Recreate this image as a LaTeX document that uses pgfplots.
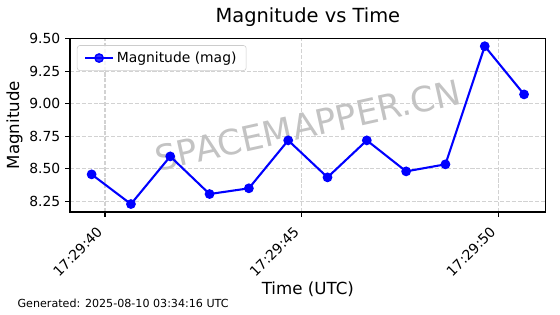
\documentclass[border=0pt]{standalone}
\usepackage{fontspec}
\setmainfont{DejaVu Sans}
\usepackage{pgfplots}
\pgfplotsset{compat=1.18}
\definecolor{gridc}{RGB}{210,210,210}
\definecolor{legc}{RGB}{204,204,204}
\definecolor{wmc}{RGB}{195,195,195}
\begin{document}
\begin{tikzpicture}
\useasboundingbox (-50.4pt,-73.44pt) rectangle (352.8pt,152.64pt);
\begin{axis}[
  at={(0pt,0pt)}, anchor=south west,
  scale only axis, width=342.5pt, height=125.1pt,
  xmin=39.11, xmax=51.21, ymin=8.168, ymax=9.502,
  xtick={40,45,50}, xticklabels={17:29:40,17:29:45,17:29:50},
  ytick={8.25,8.5,8.75,9,9.25,9.5},
  yticklabels={8.25,8.50,8.75,9.00,9.25,9.50},
  xtick pos=bottom, ytick pos=left,
  tick align=outside, major tick length=3.5pt,
  tick style={black, line width=0.8pt},
  axis line style={black, line width=0.8pt},
  ticklabel style={font=\fontsize{10}{12}\selectfont},
  xticklabel style={xshift=-6.5pt, yshift=-1.5pt, rotate=45, anchor=north east},
  grid=major,
  major grid style={gridc, dash pattern=on 2.96pt off 1.28pt, line width=0.8pt},
  title={Magnitude vs Time},
  title style={at={(axis description cs:0.5,1.0438)}, anchor=base, font=\fontsize{14}{17}\selectfont},
  xlabel={Time (UTC)},
  xlabel style={at={(axis description cs:0.5,-0.475)}, anchor=base, font=\fontsize{12}{14}\selectfont},
  ylabel={Magnitude},
  ylabel style={at={(axis description cs:-0.1072,0.5)}, anchor=base, font=\fontsize{12}{14}\selectfont},
  legend style={at={(axis description cs:0,1)}, anchor=north west, xshift=5pt, yshift=-5pt,
    draw=legc, rounded corners=2pt, fill=white, fill opacity=0.8, draw opacity=1, text opacity=1,
    font=\fontsize{10}{12}\selectfont, inner xsep=5pt, inner ysep=2.5pt},
  legend image code/.code={\draw[#1, mark repeat=2, mark phase=2] plot coordinates {(0pt,0pt) (10pt,0pt) (20pt,0pt)};},
]
\node[rotate=12.5, text=wmc, font=\fontsize{25}{30}\selectfont] at (axis description cs:0.5,0.5) {SPACEMAPPER.CN};
\addplot[blue, line width=1.5pt, mark=*, mark size=3pt, mark options={line width=1pt}] table {
x y
39.66 8.457
40.66 8.229
41.66 8.595
42.66 8.306
43.66 8.350
44.66 8.718
45.66 8.434
46.66 8.718
47.66 8.480
48.66 8.534
49.66 9.441
50.66 9.071
};
\addlegendentry{Magnitude (mag)}
\end{axis}
\node[anchor=base west, font=\fontsize{8}{10}\selectfont, inner sep=0pt] at (-37.9pt,-69.1pt) {Generated: 2025-08-10 03:34:16 UTC};
\end{tikzpicture}
\end{document}
